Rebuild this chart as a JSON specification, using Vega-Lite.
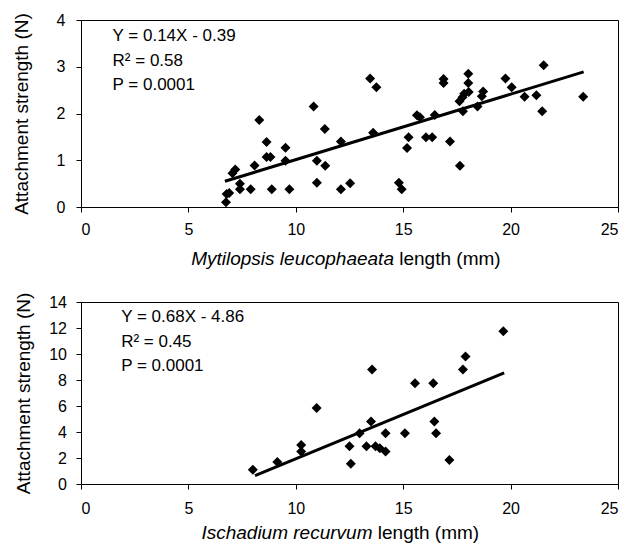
{
  "$schema": "https://vega.github.io/schema/vega-lite/v6.json",
  "background": "white",
  "padding": {"left": 12, "top": 11, "right": 4, "bottom": 0},
  "config": {
    "font": "Liberation Sans",
    "view": {"stroke": "black", "strokeWidth": 1},
    "scale": {"continuousPadding": 0},
    "axis": {
      "domainColor": "black", "tickColor": "black", "labelColor": "black", "titleColor": "black",
      "labelFont": "Liberation Sans", "titleFont": "Liberation Sans",
      "labelFontSize": 16, "titleFontSize": 19, "titleFontWeight": "normal",
      "grid": false, "tickSize": 5, "domainWidth": 1, "tickWidth": 1, "labelOverlap": false
    },
    "text": {"font": "Liberation Sans", "color": "black"}
  },
  "datasets": {
    "mytilopsis": [
      {"length": 6.75, "strength": 0.10}, {"length": 6.78, "strength": 0.28}, {"length": 6.9, "strength": 0.30},
      {"length": 7.05, "strength": 0.72}, {"length": 7.18, "strength": 0.80}, {"length": 7.4, "strength": 0.50},
      {"length": 7.4, "strength": 0.38}, {"length": 7.9, "strength": 0.38}, {"length": 8.08, "strength": 0.89},
      {"length": 8.3, "strength": 1.86}, {"length": 8.64, "strength": 1.39}, {"length": 8.64, "strength": 1.07},
      {"length": 8.82, "strength": 1.07}, {"length": 8.88, "strength": 0.38}, {"length": 9.52, "strength": 1.27},
      {"length": 9.52, "strength": 0.99}, {"length": 9.7, "strength": 0.38}, {"length": 10.83, "strength": 2.15},
      {"length": 10.98, "strength": 0.99}, {"length": 10.98, "strength": 0.52}, {"length": 11.35, "strength": 1.67},
      {"length": 11.37, "strength": 0.88}, {"length": 12.1, "strength": 1.40}, {"length": 12.1, "strength": 0.38},
      {"length": 12.53, "strength": 0.51}, {"length": 13.46, "strength": 2.75}, {"length": 13.75, "strength": 2.56},
      {"length": 13.6, "strength": 1.59}, {"length": 14.8, "strength": 0.52}, {"length": 14.93, "strength": 0.38},
      {"length": 15.18, "strength": 1.26}, {"length": 15.25, "strength": 1.49}, {"length": 15.64, "strength": 1.96},
      {"length": 15.78, "strength": 1.92}, {"length": 16.06, "strength": 1.49}, {"length": 16.35, "strength": 1.49},
      {"length": 16.47, "strength": 1.97}, {"length": 16.88, "strength": 2.74}, {"length": 16.88, "strength": 2.65},
      {"length": 17.18, "strength": 1.40}, {"length": 17.64, "strength": 0.88}, {"length": 17.62, "strength": 2.26},
      {"length": 17.76, "strength": 2.35}, {"length": 17.84, "strength": 2.42}, {"length": 17.78, "strength": 2.05},
      {"length": 18.03, "strength": 2.85}, {"length": 18.03, "strength": 2.65}, {"length": 18.05, "strength": 2.46},
      {"length": 18.46, "strength": 2.15}, {"length": 18.66, "strength": 2.37}, {"length": 18.72, "strength": 2.47},
      {"length": 19.76, "strength": 2.75}, {"length": 20.05, "strength": 2.56}, {"length": 20.65, "strength": 2.36},
      {"length": 21.2, "strength": 2.39}, {"length": 21.47, "strength": 2.05}, {"length": 21.54, "strength": 3.03},
      {"length": 23.38, "strength": 2.36}
    ],
    "ischadium": [
      {"length": 8.0, "strength": 1.1}, {"length": 9.14, "strength": 1.7}, {"length": 10.25, "strength": 3.0},
      {"length": 10.25, "strength": 2.5}, {"length": 10.97, "strength": 5.85}, {"length": 12.5, "strength": 2.9},
      {"length": 12.56, "strength": 1.55}, {"length": 12.97, "strength": 3.9}, {"length": 13.29, "strength": 2.9},
      {"length": 13.5, "strength": 4.8}, {"length": 13.55, "strength": 8.8}, {"length": 13.71, "strength": 2.9},
      {"length": 13.91, "strength": 2.75}, {"length": 14.18, "strength": 3.9}, {"length": 14.18, "strength": 2.5},
      {"length": 15.08, "strength": 3.9}, {"length": 15.55, "strength": 7.75}, {"length": 16.4, "strength": 7.75},
      {"length": 16.45, "strength": 4.8}, {"length": 16.53, "strength": 3.9}, {"length": 17.15, "strength": 1.85},
      {"length": 17.78, "strength": 8.8}, {"length": 17.9, "strength": 9.8}, {"length": 19.66, "strength": 11.75}
    ],
    "fitM": [{"length": 6.7, "strength": 0.55}, {"length": 23.4, "strength": 2.89}],
    "fitI": [{"length": 8.1, "strength": 0.65}, {"length": 19.7, "strength": 8.54}]
  },
  "columns": 1,
  "align": "none",
  "spacing": 21,
  "concat": [
    {
      "width": 537, "height": 187,
      "layer": [
        {
          "data": {"name": "mytilopsis"},
          "mark": {"type": "point", "shape": "diamond", "filled": true, "size": 100, "color": "black", "opacity": 1},
          "encoding": {
            "x": {"field": "length", "type": "quantitative", "scale": {"domain": [0, 25], "padding": 0, "nice": false},
                  "axis": {"values": [0, 5, 10, 15, 20, 25], "title": null, "labelPadding": 9.5, "labelOverlap": false}},
            "y": {"field": "strength", "type": "quantitative", "scale": {"domain": [0, 4], "padding": 0, "nice": false},
                  "axis": {"values": [0, 1, 2, 3, 4], "title": "Attachment strength (N)", "labelPadding": 11, "titlePadding": 24.5, "labelOverlap": false}}
          }
        },
        {
          "data": {"name": "fitM"},
          "mark": {"type": "line", "color": "black", "strokeWidth": 3},
          "encoding": {
            "x": {"field": "length", "type": "quantitative", "axis": {"values": [0, 5, 10, 15, 20, 25], "title": null, "labelPadding": 9.5, "labelOverlap": false}},
            "y": {"field": "strength", "type": "quantitative", "axis": {"values": [0, 1, 2, 3, 4], "title": "Attachment strength (N)", "labelPadding": 11, "titlePadding": 24.5, "labelOverlap": false}}
          }
        },
        {
          "data": {"values": [{}]},
          "mark": {"type": "text", "align": "left", "baseline": "middle", "fontSize": 17},
          "encoding": {
            "x": {"datum": 1.47, "type": "quantitative", "axis": {"values": [0, 5, 10, 15, 20, 25], "title": null, "labelPadding": 9.5, "labelOverlap": false}},
            "y": {"datum": 3.65, "type": "quantitative", "axis": {"values": [0, 1, 2, 3, 4], "title": "Attachment strength (N)", "labelPadding": 11, "titlePadding": 24.5, "labelOverlap": false}},
            "text": {"value": "Y = 0.14X - 0.39"}}
        },
        {
          "data": {"values": [{}]},
          "mark": {"type": "text", "align": "left", "baseline": "middle", "fontSize": 17},
          "encoding": {
            "x": {"datum": 1.47, "type": "quantitative", "axis": {"values": [0, 5, 10, 15, 20, 25], "title": null, "labelPadding": 9.5, "labelOverlap": false}},
            "y": {"datum": 3.12, "type": "quantitative", "axis": {"values": [0, 1, 2, 3, 4], "title": "Attachment strength (N)", "labelPadding": 11, "titlePadding": 24.5, "labelOverlap": false}},
            "text": {"value": "R² = 0.58"}}
        },
        {
          "data": {"values": [{}]},
          "mark": {"type": "text", "align": "left", "baseline": "middle", "fontSize": 17},
          "encoding": {
            "x": {"datum": 1.47, "type": "quantitative", "axis": {"values": [0, 5, 10, 15, 20, 25], "title": null, "labelPadding": 9.5, "labelOverlap": false}},
            "y": {"datum": 2.6, "type": "quantitative", "axis": {"values": [0, 1, 2, 3, 4], "title": "Attachment strength (N)", "labelPadding": 11, "titlePadding": 24.5, "labelOverlap": false}},
            "text": {"value": "P = 0.0001"}}
        },
        {
          "data": {"values": [{}]},
          "mark": {"type": "text", "align": "right", "baseline": "alphabetic", "fontSize": 19, "fontStyle": "italic", "clip": false},
          "encoding": {
            "x": {"datum": 14.57, "type": "quantitative", "axis": {"values": [0, 5, 10, 15, 20, 25], "title": null, "labelPadding": 9.5, "labelOverlap": false}},
            "y": {"datum": -1.24, "type": "quantitative", "axis": {"values": [0, 1, 2, 3, 4], "title": "Attachment strength (N)", "labelPadding": 11, "titlePadding": 24.5, "labelOverlap": false}},
            "text": {"value": "Mytilopsis leucophaeata"}}
        },
        {
          "data": {"values": [{}]},
          "mark": {"type": "text", "align": "left", "baseline": "alphabetic", "fontSize": 19, "dx": 5.3, "clip": false},
          "encoding": {
            "x": {"datum": 14.57, "type": "quantitative", "axis": {"values": [0, 5, 10, 15, 20, 25], "title": null, "labelPadding": 9.5, "labelOverlap": false}},
            "y": {"datum": -1.24, "type": "quantitative", "axis": {"values": [0, 1, 2, 3, 4], "title": "Attachment strength (N)", "labelPadding": 11, "titlePadding": 24.5, "labelOverlap": false}},
            "text": {"value": "length (mm)"}}
        }
      ]
    },
    {
      "width": 537, "height": 182,
      "layer": [
        {
          "data": {"name": "ischadium"},
          "mark": {"type": "point", "shape": "diamond", "filled": true, "size": 100, "color": "black", "opacity": 1},
          "encoding": {
            "x": {"field": "length", "type": "quantitative", "scale": {"domain": [0, 25], "padding": 0, "nice": false},
                  "axis": {"values": [0, 5, 10, 15, 20, 25], "title": null, "labelPadding": 11.5, "labelOverlap": false}},
            "y": {"field": "strength", "type": "quantitative", "scale": {"domain": [0, 14], "padding": 0, "nice": false},
                  "axis": {"values": [0, 2, 4, 6, 8, 10, 12, 14], "title": "Attachment strength (N)", "labelPadding": 9.5, "titlePadding": 15.5, "labelOverlap": false}}
          }
        },
        {
          "data": {"name": "fitI"},
          "mark": {"type": "line", "color": "black", "strokeWidth": 3},
          "encoding": {
            "x": {"field": "length", "type": "quantitative", "axis": {"values": [0, 5, 10, 15, 20, 25], "title": null, "labelPadding": 11.5, "labelOverlap": false}},
            "y": {"field": "strength", "type": "quantitative", "axis": {"values": [0, 2, 4, 6, 8, 10, 12, 14], "title": "Attachment strength (N)", "labelPadding": 9.5, "titlePadding": 15.5, "labelOverlap": false}}
          }
        },
        {
          "data": {"values": [{}]},
          "mark": {"type": "text", "align": "left", "baseline": "middle", "fontSize": 17},
          "encoding": {
            "x": {"datum": 1.87, "type": "quantitative", "axis": {"values": [0, 5, 10, 15, 20, 25], "title": null, "labelPadding": 11.5, "labelOverlap": false}},
            "y": {"datum": 12.85, "type": "quantitative", "axis": {"values": [0, 2, 4, 6, 8, 10, 12, 14], "title": "Attachment strength (N)", "labelPadding": 9.5, "titlePadding": 15.5, "labelOverlap": false}},
            "text": {"value": "Y = 0.68X - 4.86"}}
        },
        {
          "data": {"values": [{}]},
          "mark": {"type": "text", "align": "left", "baseline": "middle", "fontSize": 17},
          "encoding": {
            "x": {"datum": 1.87, "type": "quantitative", "axis": {"values": [0, 5, 10, 15, 20, 25], "title": null, "labelPadding": 11.5, "labelOverlap": false}},
            "y": {"datum": 10.96, "type": "quantitative", "axis": {"values": [0, 2, 4, 6, 8, 10, 12, 14], "title": "Attachment strength (N)", "labelPadding": 9.5, "titlePadding": 15.5, "labelOverlap": false}},
            "text": {"value": "R² = 0.45"}}
        },
        {
          "data": {"values": [{}]},
          "mark": {"type": "text", "align": "left", "baseline": "middle", "fontSize": 17},
          "encoding": {
            "x": {"datum": 1.87, "type": "quantitative", "axis": {"values": [0, 5, 10, 15, 20, 25], "title": null, "labelPadding": 11.5, "labelOverlap": false}},
            "y": {"datum": 9.08, "type": "quantitative", "axis": {"values": [0, 2, 4, 6, 8, 10, 12, 14], "title": "Attachment strength (N)", "labelPadding": 9.5, "titlePadding": 15.5, "labelOverlap": false}},
            "text": {"value": "P = 0.0001"}}
        },
        {
          "data": {"values": [{}]},
          "mark": {"type": "text", "align": "right", "baseline": "alphabetic", "fontSize": 19, "fontStyle": "italic", "clip": false},
          "encoding": {
            "x": {"datum": 13.57, "type": "quantitative", "axis": {"values": [0, 5, 10, 15, 20, 25], "title": null, "labelPadding": 11.5, "labelOverlap": false}},
            "y": {"datum": -4.23, "type": "quantitative", "axis": {"values": [0, 2, 4, 6, 8, 10, 12, 14], "title": "Attachment strength (N)", "labelPadding": 9.5, "titlePadding": 15.5, "labelOverlap": false}},
            "text": {"value": "Ischadium recurvum"}}
        },
        {
          "data": {"values": [{}]},
          "mark": {"type": "text", "align": "left", "baseline": "alphabetic", "fontSize": 19, "dx": 5.3, "clip": false},
          "encoding": {
            "x": {"datum": 13.57, "type": "quantitative", "axis": {"values": [0, 5, 10, 15, 20, 25], "title": null, "labelPadding": 11.5, "labelOverlap": false}},
            "y": {"datum": -4.23, "type": "quantitative", "axis": {"values": [0, 2, 4, 6, 8, 10, 12, 14], "title": "Attachment strength (N)", "labelPadding": 9.5, "titlePadding": 15.5, "labelOverlap": false}},
            "text": {"value": "length (mm)"}}
        }
      ]
    }
  ]
}
